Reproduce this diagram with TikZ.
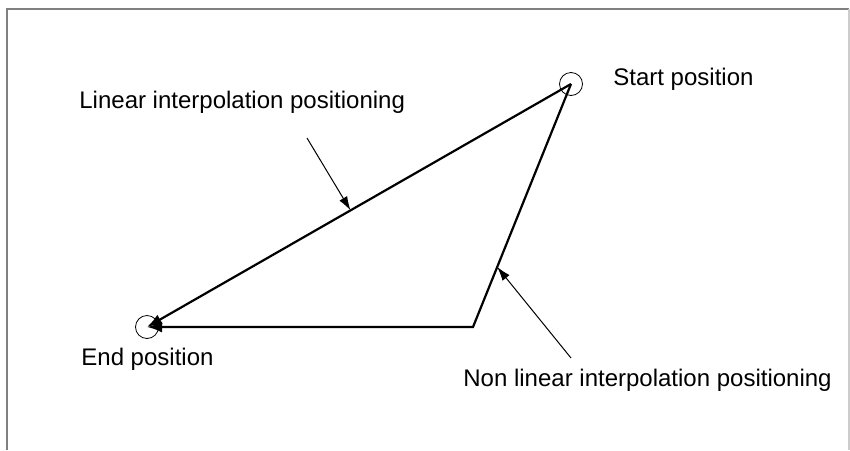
\documentclass[tikz,border=0pt]{standalone}
\usepackage{fontspec}
\setmainfont{Liberation Sans}
\usepackage{tikz}
\usetikzlibrary{positioning,arrows.meta,calc}

\begin{document}
\begin{tikzpicture}[
  x=0.5pt, y=-0.5pt,
  endpt/.style={
    draw,
    circle,
    thin,
    minimum size=11.5pt,
    inner sep=0pt
  },
  lbl/.style={
    anchor=base west,
    inner sep=0pt,
    font=\fontsize{12}{14}\selectfont
  },
  path/.style={line width=1.1pt,-{Latex[length=7.5pt,width=5.5pt]}},
  lead/.style={line width=0.5pt,-{Latex[length=7pt,width=4.5pt]}}
]
\useasboundingbox (0,0) rectangle (850,450);

% frame
\draw[gray, line width=0.9pt] (7,450) -- (7,9) -- (849,9);
\draw[gray!40, line width=0.6pt] (849,9) -- (849,450);

\node[endpt] (s) at (571,84) {};
\node[endpt] (e) at (147,327) {};
\coordinate (c) at (473,327);

\node[lbl] (ls) at (613,85) {Start position};
\node[lbl] (le) at (81,365) {End position};
\node[lbl] (ll) at (79,108) {Linear interpolation positioning};
\node[lbl] (ln) at (463,386) {Non linear interpolation positioning};

\draw[path] (s.center) -- (e.center);
\draw[path] (s.center) -- (c) -- (e.center);

\coordinate (t1) at ($(e.center)!0.48!(s.center)$);
\coordinate (t2) at ($(c)!0.247!(s.center)$);
\coordinate (f1) at (307,138);
\coordinate (f2) at (571,358);

\draw[lead] (f1) -- (t1);
\draw[lead] (f2) -- (t2);

\end{tikzpicture}
\end{document}
